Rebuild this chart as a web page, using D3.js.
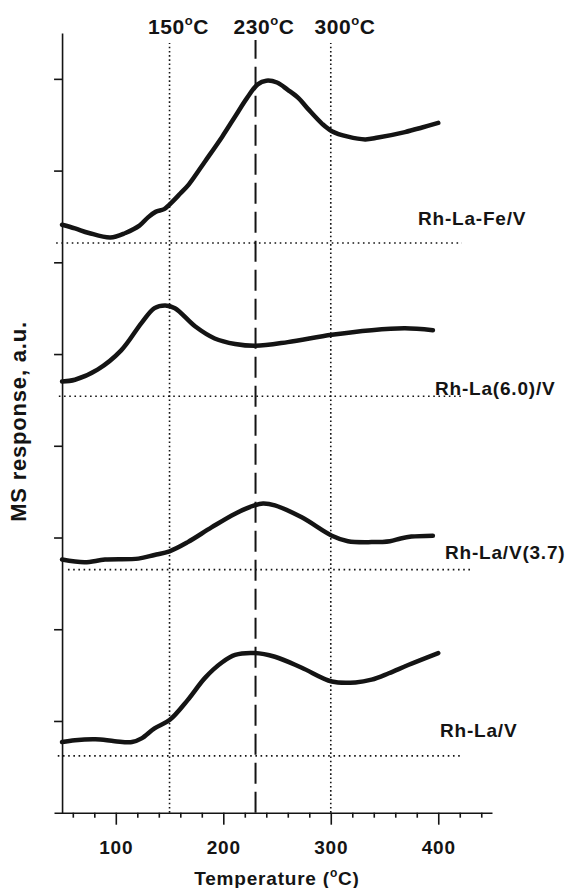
<!DOCTYPE html>
<html>
<head>
<meta charset="utf-8">
<script src="https://cdn.jsdelivr.net/npm/d3@7"></script>
<style>
  body { margin: 0; background: #fff; }
  text { font-family: "Liberation Sans", Arial, sans-serif; font-weight: bold; fill: #141414; }
</style>
</head>
<body>
<div class="chart_Container"></div>
<script>
// MS (TPD) traces. temps in C, response in a.u. (1 unit = 1 y tick)
const tempFe = [50, 62, 75, 95, 109, 122, 130, 137, 145, 150, 160, 168, 183, 199, 211, 222, 232, 240, 250, 260, 270, 279, 292, 301, 316, 332, 344, 369, 385, 400];
const respFe = [6.41, 6.37, 6.32, 6.27, 6.32, 6.40, 6.49, 6.55, 6.58, 6.63, 6.75, 6.85, 7.10, 7.37, 7.59, 7.79, 7.94, 7.98, 7.96, 7.88, 7.79, 7.67, 7.51, 7.43, 7.37, 7.34, 7.36, 7.42, 7.47, 7.52];

const tempLa60 = [50, 62, 83, 105, 124, 136, 146, 155, 174, 192, 211, 230, 260, 301, 338, 369, 395];
const respLa60 = [4.70, 4.72, 4.83, 5.04, 5.34, 5.50, 5.53, 5.50, 5.30, 5.17, 5.11, 5.09, 5.13, 5.21, 5.26, 5.28, 5.26];

const tempV37 = [50, 71, 90, 121, 136, 150, 167, 189, 211, 229, 237, 248, 273, 301, 316, 338, 355, 365, 375, 395];
const respV37 = [2.76, 2.73, 2.76, 2.77, 2.81, 2.85, 2.95, 3.11, 3.26, 3.35, 3.37, 3.35, 3.22, 3.02, 2.96, 2.95, 2.96, 2.99, 3.01, 3.02];

const tempLaV = [50, 62, 81, 99, 115, 124, 136, 150, 167, 183, 199, 211, 229, 248, 273, 301, 323, 338, 354, 372, 400];
const respLaV = [0.77, 0.79, 0.80, 0.78, 0.77, 0.81, 0.92, 1.01, 1.23, 1.47, 1.64, 1.72, 1.74, 1.70, 1.58, 1.43, 1.42, 1.45, 1.52, 1.61, 1.74];

const seriesNames = ['Rh-La-Fe/V', 'Rh-La(6.0)/V', 'Rh-La/V(3.7)', 'Rh-La/V'];
// dotted zero line under each trace
const baseLevel = [6.21, 4.54, 2.65, 0.62];
const baseStart = [44.5, 47, 55.5, 46];
const baseEnd = [422, 421, 432, 423];

// reference temperatures marked on top
const refTemps = [150, 230, 300];
const xMajorTicks = [100, 200, 300, 400];
const xMinorTicks = d3.range(60, 441, 20).filter(t => t % 100 !== 0);
const yTicks = [1, 2, 3, 4, 5, 6, 7, 8];

const series = [
  {temp: tempFe, resp: respFe},
  {temp: tempLa60, resp: respLa60},
  {temp: tempV37, resp: respV37},
  {temp: tempLaV, resp: respLaV}
];

const width = 570, height = 888;

const svg = d3.select('.chart_Container')
  .append('svg')
  .attr('width', width)
  .attr('height', height);

const xScale = d3.scaleLinear().domain([42.5, 450]).range([54, 492]);
const yScale = d3.scaleLinear().domain([0, 8.5]).range([812.7, 33]);

const ink = '#141414';

//vertical marker lines first so the curves sit on top
refTemps.forEach(t => {
  const dashed = t === 230;
  svg.append('line')
    .attr('x1', xScale(t)).attr('x2', xScale(t))
    .attr('y1', yScale(0)).attr('y2', dashed ? 40 : 43)
    .attr('stroke', ink)
    .attr('stroke-width', dashed ? 2 : 1.6)
    .attr('stroke-dasharray', dashed ? '21,8' : '1.6,2.6');
});

//baselines
baseLevel.forEach((b, i) => {
  svg.append('line')
    .attr('x1', xScale(baseStart[i])).attr('x2', xScale(baseEnd[i]))
    .attr('y1', yScale(b)).attr('y2', yScale(b))
    .attr('stroke', ink)
    .attr('stroke-width', 1.6)
    .attr('stroke-dasharray', '1.6,3.6');
});

const line = d3.line()
  .x(d => xScale(d[0]))
  .y(d => yScale(d[1]))
  .curve(d3.curveCatmullRom.alpha(0.5));

series.forEach(s => {
  svg.append('path')
    .datum(s.temp.map((t, i) => [t, s.resp[i]]))
    .attr('fill', 'none')
    .attr('stroke', ink)
    .attr('stroke-width', 4.5)
    .attr('stroke-linecap', 'round')
    .attr('stroke-linejoin', 'round')
    .attr('d', line);
});

// x axis - major + minor ticks
const xAxisG = svg.append('g')
  .attr('class', 'x-axis')
  .attr('transform', `translate(0, ${yScale(0)})`)
  .call(d3.axisBottom(xScale).tickValues(xMajorTicks).tickSize(12).tickSizeOuter(0));

xAxisG.append('g')
  .call(d3.axisBottom(xScale).tickValues(xMinorTicks).tickSize(5).tickFormat(''))
  .select('.domain').remove();

xAxisG.selectAll('path, line').attr('stroke', ink).attr('stroke-width', 1.6);
xAxisG.selectAll('text')
  .attr('y', 41).attr('dy', 0)
  .attr('font-size', 19)
  .attr('letter-spacing', 0.8)
  .attr('font-family', '"Liberation Sans", Arial, sans-serif')
  .attr('font-weight', 'bold')
  .attr('fill', ink);

// y axis, no labels
const yAxisG = svg.append('g')
  .attr('class', 'y-axis')
  .attr('transform', `translate(${xScale(50)}, 0)`)
  .call(d3.axisLeft(yScale).tickValues(yTicks).tickSize(8).tickSizeOuter(0).tickFormat(''));
yAxisG.selectAll('path, line').attr('stroke', ink).attr('stroke-width', 1.6);

// series labels
const labelPos = [[418, 225], [435, 395], [445, 559], [440, 737]];
seriesNames.forEach((n, i) => {
  svg.append('text')
    .attr('x', labelPos[i][0]).attr('y', labelPos[i][1])
    .attr('font-size', 19)
    .attr('letter-spacing', 0.8)
    .text(n);
});

//helper for the little raised "o" degree sign
function degreeText(g, before, after, supSize, rise) {
  g.append('tspan').text(before);
  g.append('tspan').attr('dy', -rise).attr('font-size', supSize).text('o');
  g.append('tspan').attr('dy', rise).text(after);
}

const topX = [178.5, 264, 345];
refTemps.forEach((t, i) => {
  const tx = svg.append('text')
    .attr('x', topX[i]).attr('y', 34)
    .attr('text-anchor', 'middle')
    .attr('font-size', 21)
    .attr('letter-spacing', 0.6);
  degreeText(tx, String(t), 'C', 13, 9);
});

// axis titles
const xt = svg.append('text')
  .attr('x', 277).attr('y', 885)
  .attr('text-anchor', 'middle')
  .attr('font-size', 19)
  .attr('letter-spacing', 0.8);
degreeText(xt, 'Temperature (', 'C)', 12, 8);

svg.append('text')
  .attr('transform', 'translate(26, 421.5) rotate(-90)')
  .attr('text-anchor', 'middle')
  .attr('font-size', 22)
  .attr('letter-spacing', 0.8)
  .text('MS response, a.u.');
</script>
</body>
</html>
